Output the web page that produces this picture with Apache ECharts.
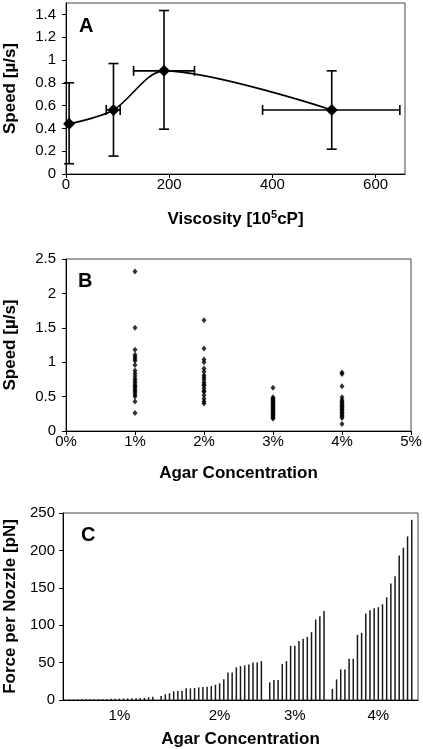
<!DOCTYPE html>
<html><head><meta charset="utf-8">
<script src="https://cdn.jsdelivr.net/npm/echarts@6/dist/echarts.min.js"></script>
<style>html,body{margin:0;padding:0;background:#fff}#c{width:423px;height:749px}</style>
</head><body><div id="c"></div>
<script>
// Panel A
const viscosity = [6, 92, 190, 515];
const speedMean = [0.44, 0.562, 0.905, 0.562];
const speedLow = [0.09, 0.157, 0.393, 0.218];
const speedHigh = [0.80, 0.969, 1.434, 0.905];
const viscLow = [null, 78, 131, 381];
const viscHigh = [null, 105, 249, 647];
const ticksAx = [0, 200, 400, 600];
const ticksAy = [0, 0.2, 0.4, 0.6, 0.8, 1, 1.2, 1.4];
// Panel B
const agarB = [1, 2, 3, 4];
const speed1 = [2.32, 1.50, 1.18, 1.11, 1.08, 1.05, 1.02, 0.96, 0.88, 0.84, 0.80, 0.76, 0.73, 0.70, 0.67, 0.65, 0.63, 0.60, 0.58, 0.56, 0.53, 0.50, 0.43, 0.26];
const speed2 = [1.61, 1.20, 1.04, 1.00, 0.91, 0.86, 0.81, 0.78, 0.75, 0.71, 0.68, 0.66, 0.62, 0.58, 0.57, 0.52, 0.47, 0.43, 0.40];
const speed3 = [0.63, 0.49, 0.47, 0.46, 0.44, 0.43, 0.41, 0.40, 0.38, 0.37, 0.35, 0.34, 0.32, 0.31, 0.30, 0.28, 0.27, 0.25, 0.24, 0.22, 0.21, 0.19, 0.18];
const speed4 = [0.85, 0.83, 0.65, 0.49, 0.45, 0.43, 0.41, 0.39, 0.37, 0.36, 0.34, 0.32, 0.31, 0.29, 0.27, 0.25, 0.23, 0.21, 0.19, 0.10];
// Panel C
const groupLabels = ['1%', '2%', '3%', '4%'];
const force1 = [0.5, 0.6, 0.7, 0.8, 0.9, 1.0, 1.0, 1.1, 1.2, 1.3, 1.5, 1.6, 1.7, 1.8, 2.0, 2.1, 2.2, 2.3, 2.5, 2.8, 3.6, 4.4];
const force2 = [5.3, 7.6, 8.9, 11.6, 12.0, 12.4, 15.6, 15.6, 16.0, 16.9, 17.3, 17.8, 18.7, 20.4, 22.2, 27.6, 36.9, 36.9, 43.6, 45.3, 46.2, 47.6, 50.2, 50.2, 52.0];
const force3 = [23.6, 26.7, 26.7, 48.0, 52.0, 72.4, 72.4, 79.0, 82.0, 84.4, 90.7, 107.6, 112.0, 119.0];
const force4 = [14.7, 27.6, 40.9, 40.9, 55.1, 55.1, 87.1, 89.8, 115.6, 120.0, 122.7, 124.0, 128.0, 137.3, 155.6, 165.3, 193.3, 203.6, 218.7, 240.9];

const FONT = '"Liberation Sans", Arial, sans-serif';
const labelOffsets = [13, 14, 6, 11]; // label slot within each group
const groups = [force1, force2, force3, force4];
const cats = [], forceData = [];
groups.forEach((g, gi) => {
  g.forEach((v, i) => { cats.push(i === labelOffsets[gi] ? groupLabels[gi] : ''); forceData.push(v); });
  cats.push(''); forceData.push(null);
});

const errData = viscosity.map((x, i) => [x, speedMean[i], viscLow[i] == null ? x : viscLow[i], viscHigh[i] == null ? x : viscHigh[i], speedLow[i], speedHigh[i]]);
const scatterB = [];
[speed1, speed2, speed3, speed4].forEach((arr, i) => arr.forEach(v => scatterB.push([agarB[i], v])));

const tickLabel = { color: '#000', fontSize: 15, fontFamily: FONT };
const nameStyle = { color: '#000', fontSize: 17, fontWeight: 'bold', fontFamily: FONT };
const axLine = { show: true, lineStyle: { color: '#000', width: 1 } };
const gridBase = { show: true, borderColor: '#444', borderWidth: 1, outerBoundsMode: 'none', containLabel: false };

const chart = echarts.init(document.getElementById('c'), null, { renderer: 'canvas' });
chart.setOption({
  animation: false,
  backgroundColor: '#fff',
  grid: [
    Object.assign({ left: 66, right: 18, top: 3, height: 171 }, gridBase),
    Object.assign({ left: 66, right: 12, top: 259, height: 172 }, gridBase),
    Object.assign({ left: 63, right: 5, top: 513, height: 187 }, gridBase)
  ],
  xAxis: [
    { gridIndex: 0, type: 'value', min: 0, max: 657, interval: 200,
      axisLine: axLine, axisTick: { show: true, length: 4, customValues: ticksAx, lineStyle: { color: '#000' } },
      axisLabel: Object.assign({ margin: 3, customValues: ticksAx }, tickLabel), splitLine: { show: false },
      name: '{b|Viscosity [10}{s|5}{b|cP]}', nameLocation: 'middle', nameGap: 35,
      nameTextStyle: { rich: { b: Object.assign({ lineHeight: 20 }, nameStyle), s: Object.assign({}, nameStyle, { fontSize: 11, lineHeight: 20, verticalAlign: 'top' }) } } },
    { gridIndex: 1, type: 'value', min: 0, max: 5, interval: 1,
      axisLine: axLine, axisTick: { show: true, length: 4, lineStyle: { color: '#000' } },
      axisLabel: Object.assign({ margin: 3, formatter: '{value}%' }, tickLabel), splitLine: { show: false },
      name: 'Agar Concentration', nameLocation: 'middle', nameGap: 34, nameTextStyle: nameStyle },
    { gridIndex: 2, type: 'category', data: cats, boundaryGap: true,
      axisLine: axLine, axisTick: { show: false },
      axisLabel: Object.assign({ margin: 8, interval: 0 }, tickLabel),
      name: 'Agar Concentration', nameLocation: 'middle', nameGap: 31, nameTextStyle: nameStyle }
  ],
  yAxis: [
    { gridIndex: 0, type: 'value', min: 0, max: 1.5, interval: 0.2,
      axisLine: axLine, axisTick: { show: true, length: 4, customValues: ticksAy, lineStyle: { color: '#000' } },
      axisLabel: Object.assign({ margin: 10, customValues: ticksAy }, tickLabel), splitLine: { show: false },
      name: 'Speed [µ/s]', nameLocation: 'middle', nameGap: 47, nameTextStyle: nameStyle },
    { gridIndex: 1, type: 'value', min: 0, max: 2.5, interval: 0.5,
      axisLine: axLine, axisTick: { show: true, length: 4, lineStyle: { color: '#000' } },
      axisLabel: Object.assign({ margin: 10 }, tickLabel), splitLine: { show: false },
      name: 'Speed [µ/s]', nameLocation: 'middle', nameGap: 47, nameTextStyle: nameStyle },
    { gridIndex: 2, type: 'value', min: 0, max: 250, interval: 50,
      axisLine: axLine, axisTick: { show: true, length: 4, lineStyle: { color: '#000' } },
      axisLabel: Object.assign({ margin: 8 }, tickLabel), splitLine: { show: false },
      name: 'Force per Nozzle [pN]', nameLocation: 'middle', nameGap: 41, nameTextStyle: nameStyle }
  ],
  series: [
    { type: 'custom', xAxisIndex: 0, yAxisIndex: 0, data: errData, z: 3,
      renderItem: function (params, api) {
        const x = api.value(0), y = api.value(1);
        const c = api.coord([x, y]);
        const lo = api.coord([x, api.value(4)]), hi = api.coord([x, api.value(5)]);
        const st = { stroke: '#000', lineWidth: 1.6 };
        const ch = [
          { type: 'line', shape: { x1: lo[0], y1: lo[1], x2: hi[0], y2: hi[1] }, style: st },
          { type: 'line', shape: { x1: lo[0] - 5, y1: lo[1], x2: lo[0] + 5, y2: lo[1] }, style: st },
          { type: 'line', shape: { x1: hi[0] - 5, y1: hi[1], x2: hi[0] + 5, y2: hi[1] }, style: st }
        ];
        if (api.value(2) !== x || api.value(3) !== x) {
          const l = api.coord([api.value(2), y]), r = api.coord([api.value(3), y]);
          ch.push({ type: 'line', shape: { x1: l[0], y1: c[1], x2: r[0], y2: c[1] }, style: st });
          ch.push({ type: 'line', shape: { x1: l[0], y1: c[1] - 5, x2: l[0], y2: c[1] + 5 }, style: st });
          ch.push({ type: 'line', shape: { x1: r[0], y1: c[1] - 5, x2: r[0], y2: c[1] + 5 }, style: st });
        }
        return { type: 'group', children: ch };
      } },
    { type: 'line', xAxisIndex: 0, yAxisIndex: 0, data: viscosity.map((x, i) => [x, speedMean[i]]), smooth: 0.3,
      symbol: 'diamond', symbolSize: 12, z: 4,
      lineStyle: { color: '#000', width: 1.6 }, itemStyle: { color: '#000' } },
    { type: 'scatter', xAxisIndex: 1, yAxisIndex: 1, data: scatterB, symbol: 'diamond', symbolSize: [5, 6],
      itemStyle: { color: '#000' } },
    { type: 'bar', xAxisIndex: 2, yAxisIndex: 2, data: forceData, barWidth: 1.5,
      itemStyle: { color: '#1a1a1a' } }
  ],
  graphic: [
    { type: 'text', style: { text: 'A', x: 79, y: 26, verticalAlign: 'middle', font: 'bold 20px ' + FONT, fill: '#000' } },
    { type: 'text', style: { text: 'B', x: 78, y: 281, verticalAlign: 'middle', font: 'bold 20px ' + FONT, fill: '#000' } },
    { type: 'text', style: { text: 'C', x: 81, y: 535, verticalAlign: 'middle', font: 'bold 20px ' + FONT, fill: '#000' } }
  ]
});
</script></body></html>
